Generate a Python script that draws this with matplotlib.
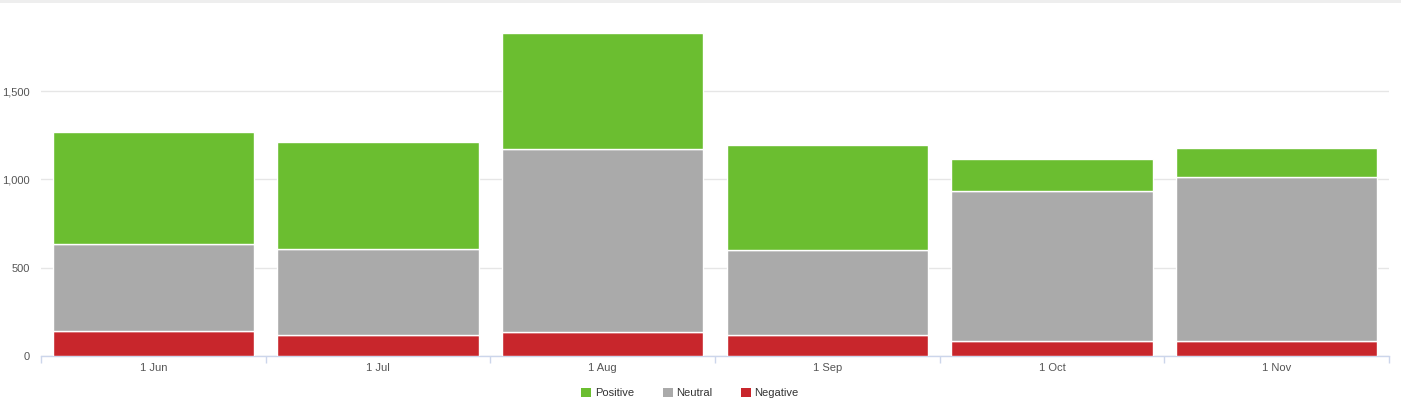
import matplotlib
matplotlib.use("Agg")
import matplotlib.pyplot as plt
from matplotlib.patches import Patch, Rectangle
import numpy as np

categories = ["1 Jun", "1 Jul", "1 Aug", "1 Sep", "1 Oct", "1 Nov"]
negative = [141, 119, 136, 119, 85, 85]
neutral = [492, 488, 1035, 482, 848, 931]
positive = [636, 605, 658, 594, 183, 164]

c_pos = "#6bbe30"
c_neu = "#aaaaaa"
c_neg = "#c8262c"

plt.rcParams['font.family'] = ['Liberation Sans', 'DejaVu Sans']

W, H = 1401, 412
fig = plt.figure(figsize=(W / 100, H / 100), dpi=100)
fig.patch.set_facecolor("white")
# top thin gray band
fig.add_artist(Rectangle((0, 1 - 3 / H), 1, 3 / H, transform=fig.transFigure,
                         color="#eeeeee", lw=0))

ax = fig.add_axes([41 / W, (H - 356) / H, (1389 - 41) / W, (356 - 8) / H])
x = np.arange(len(categories))
neg = np.array(negative)
neu = np.array(neutral)
pos = np.array(positive)
bw = 0.895
ax.bar(x, neg, width=bw, color=c_neg, edgecolor="white", linewidth=1, zorder=3)
ax.bar(x, neu, width=bw, bottom=neg, color=c_neu, edgecolor="white", linewidth=1, zorder=3)
ax.bar(x, pos, width=bw, bottom=neg + neu, color=c_pos, edgecolor="white", linewidth=1, zorder=3)

ax.set_xlim(-0.5, len(categories) - 0.5)
ax.set_ylim(0, 1970)
ax.set_yticks([0, 500, 1000, 1500])
ax.set_yticklabels(["0", "500", "1,000", "1,500"])
ax.yaxis.grid(True, color="#e6e6e6", linewidth=1, zorder=0)
ax.set_axisbelow(True)

ax.set_xticks(x)
ax.set_xticklabels(categories)
ax.set_xticks(np.arange(len(categories) + 1) - 0.5, minor=True)
ax.tick_params(axis="x", which="major", length=0, pad=5, labelsize=8, labelcolor="#555555")
ax.tick_params(axis="x", which="minor", length=5, color="#ccd6eb", width=1)
ax.tick_params(axis="y", length=0, pad=8, labelsize=8, labelcolor="#555555")

for s in ["top", "right", "left"]:
    ax.spines[s].set_visible(False)
ax.spines["bottom"].set_color("#ccd6eb")
ax.spines["bottom"].set_linewidth(1)

handles = [Patch(facecolor=c_pos, edgecolor="none", label="Positive"),
           Patch(facecolor=c_neu, edgecolor="none", label="Neutral"),
           Patch(facecolor=c_neg, edgecolor="none", label="Negative")]
fig.legend(handles=handles, loc="center", bbox_to_anchor=(690 / W, 1 - 393 / H),
           ncol=3, frameon=False, fontsize=8, handlelength=0.9, handleheight=0.9,
           handletextpad=0.3, columnspacing=2.6, labelcolor="#333333")

fig.savefig("out.png", dpi=100, facecolor="white")
